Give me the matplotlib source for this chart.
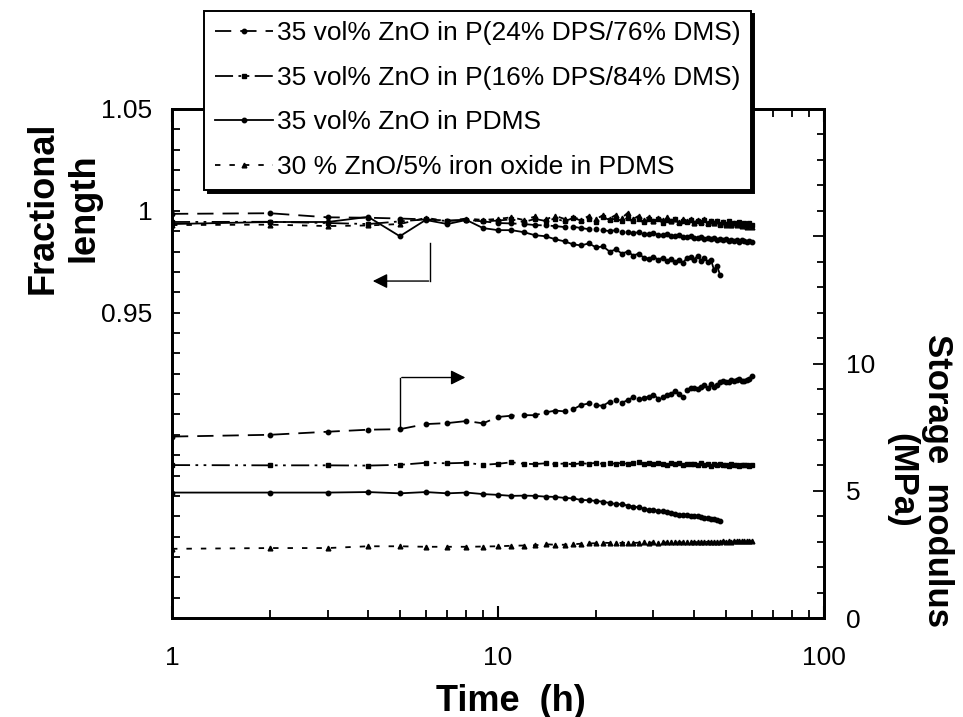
import matplotlib
matplotlib.use("Agg")
import matplotlib.pyplot as plt
from matplotlib.ticker import FixedLocator, MultipleLocator, NullFormatter, LogLocator
from matplotlib.lines import Line2D

plt.rcParams['font.family'] = ['Liberation Sans', 'DejaVu Sans']

labels = ["35 vol% ZnO in P(24% DPS/76% DMS)",
          "35 vol% ZnO in P(16% DPS/84% DMS)",
          "35 vol% ZnO in PDMS",
          "30 % ZnO/5% iron oxide in PDMS"]

hours60 = list(range(1, 61))
hours48 = list(range(1, 49))

# Fractional length (left axis)
frac_24dps = [0.9985, 0.9988, 0.9968, 0.9966, 0.9962, 0.9958, 0.9952, 0.9955, 0.9948, 0.9940,
              0.9938, 0.9935, 0.9930, 0.9928, 0.9925, 0.9920, 0.9922, 0.9915, 0.9910, 0.9912,
              0.9905, 0.9900, 0.9905, 0.9898, 0.9895, 0.9890, 0.9895, 0.9888, 0.9885, 0.9890,
              0.9882, 0.9880, 0.9885, 0.9878, 0.9875, 0.9880, 0.9872, 0.9870, 0.9875, 0.9868,
              0.9865, 0.9870, 0.9862, 0.9868, 0.9860, 0.9865, 0.9858, 0.9862, 0.9855, 0.9860,
              0.9852, 0.9858, 0.9850, 0.9855, 0.9848, 0.9855, 0.9850, 0.9845, 0.9852, 0.9848]
frac_16dps = [0.9945, 0.9946, 0.9940, 0.9935, 0.9948, 0.9958, 0.9950, 0.9956, 0.9948, 0.9952,
              0.9958, 0.9945, 0.9960, 0.9950, 0.9962, 0.9948, 0.9965, 0.9952, 0.9960, 0.9945,
              0.9968, 0.9955, 0.9962, 0.9950, 0.9966, 0.9948, 0.9960, 0.9945, 0.9958, 0.9950,
              0.9962, 0.9942, 0.9955, 0.9948, 0.9960, 0.9940, 0.9952, 0.9945, 0.9956, 0.9938,
              0.9950, 0.9942, 0.9955, 0.9935, 0.9948, 0.9940, 0.9952, 0.9932, 0.9945, 0.9936,
              0.9948, 0.9930, 0.9942, 0.9935, 0.9945, 0.9928, 0.9938, 0.9932, 0.9940, 0.9930]
frac_pdms = [0.9935, 0.9945, 0.9945, 0.9970, 0.9875, 0.9955, 0.9935, 0.9955, 0.9915, 0.9905,
             0.9905, 0.9895, 0.9880, 0.9875, 0.9860, 0.9850, 0.9835, 0.9830, 0.9840, 0.9820,
             0.9825, 0.9800, 0.9810, 0.9790, 0.9800, 0.9780, 0.9790, 0.9770, 0.9765, 0.9775,
             0.9760, 0.9770, 0.9755, 0.9765, 0.9750, 0.9760, 0.9745, 0.9770, 0.9775, 0.9760,
             0.9780, 0.9755, 0.9770, 0.9750, 0.9760, 0.9710, 0.9730, 0.9685]
frac_iron = [0.9930, 0.9932, 0.9925, 0.9928, 0.9935, 0.9965, 0.9950, 0.9962, 0.9955, 0.9960,
             0.9968, 0.9955, 0.9972, 0.9958, 0.9975, 0.9960, 0.9970, 0.9955, 0.9975, 0.9960,
             0.9978, 0.9962, 0.9980, 0.9965, 0.9990, 0.9960, 0.9975, 0.9955, 0.9970, 0.9950,
             0.9965, 0.9955, 0.9968, 0.9948, 0.9960, 0.9945, 0.9958, 0.9950, 0.9962, 0.9942,
             0.9955, 0.9945, 0.9958, 0.9940, 0.9950, 0.9938, 0.9948, 0.9935, 0.9945, 0.9932,
             0.9942, 0.9930, 0.9940, 0.9928, 0.9938, 0.9925, 0.9935, 0.9922, 0.9930, 0.9920]

# Storage modulus (right axis, MPa)
mod_24dps = [7.13, 7.20, 7.32, 7.40, 7.42, 7.62, 7.66, 7.74, 7.65, 7.90,
             7.95, 7.97, 7.97, 8.08, 8.15, 8.12, 8.20, 8.37, 8.43, 8.36,
             8.34, 8.50, 8.58, 8.46, 8.56, 8.68, 8.62, 8.64, 8.70, 8.78,
             8.62, 8.70, 8.76, 8.82, 8.92, 8.82, 8.68, 8.95, 9.05, 9.02,
             8.98, 9.08, 9.14, 9.02, 9.18, 9.06, 9.14, 9.26, 9.30, 9.26,
             9.28, 9.34, 9.30, 9.36, 9.38, 9.32, 9.30, 9.35, 9.40, 9.52]
mod_16dps = [6.01, 6.00, 6.00, 5.99, 6.02, 6.10, 6.08, 6.10, 6.02, 6.06,
             6.12, 6.06, 6.05, 6.08, 6.05, 6.07, 6.04, 6.08, 6.06, 6.10,
             6.05, 6.08, 6.06, 6.10, 6.04, 6.08, 6.12, 6.06, 6.08, 6.04,
             6.10, 6.06, 6.02, 6.08, 6.05, 6.10, 6.03, 6.07, 6.04, 6.06,
             6.01, 6.08, 6.03, 6.06, 5.98, 6.04, 6.02, 6.05, 6.00, 6.03,
             5.99, 6.04, 6.01, 6.02, 5.98, 6.03, 6.00, 6.02, 5.97, 6.03]
mod_pdms = [4.93, 4.93, 4.93, 4.95, 4.90, 4.95, 4.90, 4.93, 4.87, 4.84,
            4.80, 4.81, 4.80, 4.77, 4.76, 4.72, 4.70, 4.64, 4.63, 4.60,
            4.57, 4.52, 4.48, 4.47, 4.42, 4.38, 4.35, 4.30, 4.25, 4.24,
            4.21, 4.19, 4.15, 4.12, 4.08, 4.05, 4.05, 4.03, 4.02, 4.00,
            3.99, 3.97, 3.94, 3.92, 3.90, 3.88, 3.85, 3.83]
mod_iron = [2.72, 2.75, 2.75, 2.82, 2.82, 2.80, 2.80, 2.80, 2.81, 2.82,
            2.84, 2.85, 2.86, 2.90, 2.88, 2.88, 2.90, 2.92, 2.93, 2.94,
            2.96, 2.95, 2.96, 2.95, 2.96, 2.95, 2.96, 2.97, 2.96, 2.97,
            2.96, 2.97, 2.97, 2.98, 2.97, 2.98, 2.97, 2.98, 2.98, 2.99,
            2.98, 2.99, 2.98, 3.00, 2.99, 3.00, 2.99, 3.00, 3.01, 3.00,
            3.01, 3.00, 3.02, 3.01, 3.02, 3.01, 3.02, 3.03, 3.02, 3.02]

left_ticks = [0.95, 1.0, 1.05]
left_ticklabels = ["0.95", "1", "1.05"]
right_ticks = [0, 5, 10, 15, 20]
right_ticklabels = ["0", "5", "10", "", ""]
x_ticks = [1, 10, 100]
x_ticklabels = ["1", "10", "100"]

styles = [
    dict(linestyle=(0, (9, 5)), marker='o', markersize=3.2),
    dict(linestyle=(0, (10, 3, 1.5, 3, 1.5, 3)), marker='s', markersize=3.0),
    dict(linestyle='-', marker='o', markersize=3.2),
    dict(linestyle=(0, (3, 5)), marker='^', markersize=3.4),
]

fig = plt.figure(figsize=(9.63, 7.17), dpi=100)
ax = fig.add_axes([0.1786, 0.138, 0.677, 0.710])
ax2 = ax.twinx()

lw = 1.3
fr = [frac_24dps, frac_16dps, frac_pdms, frac_iron]
md = [mod_24dps, mod_16dps, mod_pdms, mod_iron]
hrs = [hours60, hours60, hours48, hours60]
for f, m, h, st in zip(fr, md, hrs, styles):
    ax.plot(h, f, color='black', lw=lw, **st)
    ax2.plot(h, m, color='black', lw=lw, **st)

ax.set_xscale('log')
ax.set_xlim(1, 100)
ax.set_ylim(0.80, 1.05)
ax2.set_ylim(0, 20)

ax.xaxis.set_major_locator(FixedLocator(x_ticks))
ax.set_xticklabels(x_ticklabels)
ax.xaxis.set_minor_locator(LogLocator(base=10, subs=range(2, 10)))
ax.xaxis.set_minor_formatter(NullFormatter())

ax.yaxis.set_major_locator(FixedLocator(left_ticks))
ax.set_yticklabels(left_ticklabels)
ax.yaxis.set_minor_locator(MultipleLocator(0.01))

ax2.yaxis.set_major_locator(FixedLocator(right_ticks))
ax2.set_yticklabels(right_ticklabels)
ax2.yaxis.set_minor_locator(MultipleLocator(1))

for a in (ax, ax2):
    for s in a.spines.values():
        s.set_linewidth(2.0)

ax.tick_params(axis='x', which='both', direction='in', top=True, labelsize=19, pad=20)
ax.tick_params(axis='x', which='major', length=9, width=1.5)
ax.tick_params(axis='x', which='minor', length=6, width=1.3)
ax.tick_params(axis='y', which='both', direction='in', right=False, labelsize=19, pad=14)
ax.tick_params(axis='y', which='major', length=6, width=1.3)
ax.tick_params(axis='y', which='minor', length=6, width=1.3)
ax2.tick_params(axis='y', which='both', direction='in', labelsize=19, pad=16)
ax2.tick_params(axis='y', which='major', length=8, width=1.3)
ax2.tick_params(axis='y', which='minor', length=5, width=1.3)

# direction arrows
ax.plot([6.2, 6.2], [0.984, 0.9655], color='black', lw=1.0)
ax.annotate('', xy=(4.05, 0.9655), xytext=(6.25, 0.9655),
            arrowprops=dict(arrowstyle='-|>', color='black', lw=1.0, mutation_scale=22))
ax2.plot([5.0, 5.0], [7.55, 9.45], color='black', lw=1.0)
ax2.annotate('', xy=(8.1, 9.45), xytext=(4.97, 9.45),
             arrowprops=dict(arrowstyle='-|>', color='black', lw=1.0, mutation_scale=22))

handles = [Line2D([], [], color='black', lw=lw, **st) for st in styles]
leg = fig.legend(handles, labels, loc='upper left', bbox_to_anchor=(0.212, 0.985),
                 fontsize=19, handlelength=2.2, handletextpad=0.15, borderpad=0.4,
                 labelspacing=0.78, borderaxespad=0, fancybox=False, numpoints=1,
                 shadow={'color': 'black', 'alpha': 1.0, 'ox': 2.5, 'oy': -2.5},
                 framealpha=1)
leg.get_frame().set_edgecolor('black')
leg.get_frame().set_linewidth(1.4)
leg.set_zorder(10)

fig.text(0.066, 0.71, "Fractional\nlength", rotation=90, ha='center', va='center',
         fontsize=26, fontweight='bold', linespacing=1.2)
fig.text(0.955, 0.33, "Storage  modulus\n(MPa)", rotation=270, ha='center', va='center',
         fontsize=25, fontweight='bold', linespacing=1.1)
fig.text(0.53, 0.022, "Time  (h)", ha='center', va='center', fontsize=26, fontweight='bold')

fig.savefig("out.png", dpi=100)
